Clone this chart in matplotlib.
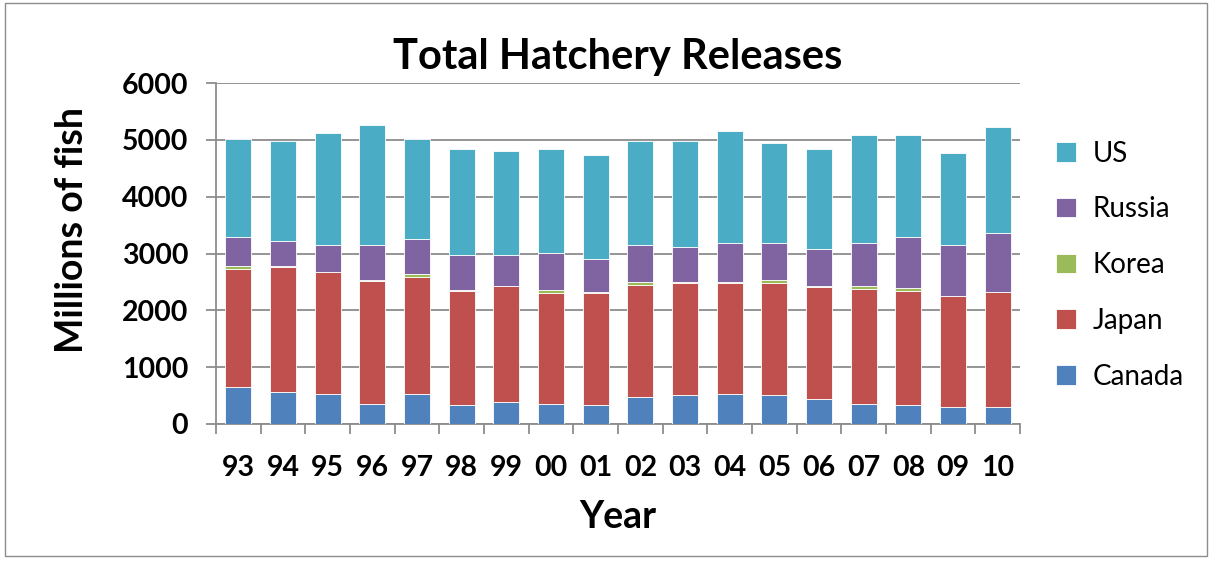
import matplotlib.pyplot as plt
import numpy as np
from matplotlib.patches import Rectangle

plt.rcParams['font.family'] = ['Lato', 'DejaVu Sans']

years = ["93", "94", "95", "96", "97", "98", "99", "00", "01",
         "02", "03", "04", "05", "06", "07", "08", "09", "10"]
canada = [645, 569, 533, 358, 533, 328, 393, 358, 328,
          469, 504, 533, 504, 434, 358, 328, 293, 293]
japan = [2087, 2198, 2134, 2162, 2058, 2017, 2028, 1951, 1981,
         1981, 1981, 1952, 1981, 1981, 2022, 2017, 1952, 2022]
korea = [46, 11, 6, 12, 47, 11, 6, 47, 12,
         47, 6, 6, 47, 12, 47, 47, 6, 6]
russia = [516, 446, 481, 622, 627, 622, 551, 657, 592,
          657, 627, 698, 657, 662, 762, 902, 903, 1044]
us = [1718, 1758, 1963, 2104, 1747, 1858, 1829, 1823, 1823,
      1828, 1864, 1969, 1758, 1747, 1893, 1788, 1617, 1864]

series = [("Canada", canada, "#4F81BD"),
          ("Japan", japan, "#C0504D"),
          ("Korea", korea, "#9BBB59"),
          ("Russia", russia, "#8064A2"),
          ("US", us, "#4BACC6")]

fig = plt.figure(figsize=(12.13, 5.62), dpi=100)
ax = fig.add_axes([0.178, 0.2456, 0.663, 0.6064])

x = np.arange(len(years))
bottom = np.zeros(len(years))
handles = []
for name, vals, col in series:
    h = ax.bar(x, vals, 0.58, bottom=bottom, color=col, edgecolor="white",
               linewidth=0.6, label=name, zorder=3)
    handles.append(h)
    bottom += np.array(vals)

ax.set_xlim(-0.5, len(years) - 0.5)
ax.set_ylim(0, 6000)
ax.set_yticks(range(0, 6001, 1000))
ax.yaxis.grid(True, color="#8c8c8c", linewidth=1.3, zorder=0)
ax.set_xticks(x)
ax.set_xticklabels(years, fontsize=20.5, fontweight="bold")
ax.set_xticks(np.arange(-0.5, len(years), 1), minor=True)
ax.tick_params(axis="x", which="major", length=0, pad=22)
ax.tick_params(axis="x", which="minor", length=7, width=1.3, color="#8c8c8c")
ax.tick_params(axis="y", length=7, width=1.3, color="#8c8c8c", labelsize=20.5, pad=13)
for lbl in ax.get_yticklabels():
    lbl.set_fontweight("bold")

for s in ["top", "right"]:
    ax.spines[s].set_visible(False)
for s in ["left", "bottom"]:
    ax.spines[s].set_color("#8c8c8c")
    ax.spines[s].set_linewidth(1.3)

ax.set_title("Total Hatchery Releases", fontsize=30, fontweight="bold", pad=10)
ax.set_ylabel("Millions of fish", fontsize=27, fontweight="bold")
ax.yaxis.set_label_coords(-0.158, 0.568)
ax.set_xlabel("Year", fontsize=27, fontweight="bold", labelpad=14)

leg = ax.legend(handles[::-1], [s[0] for s in series][::-1], loc="center left",
                bbox_to_anchor=(1.014, 0.466), frameon=False, fontsize=20,
                handlelength=0.7, handleheight=0.7, labelspacing=1.07,
                handletextpad=0.6)

fig.patches.append(Rectangle((0.004, 0.01), 0.991, 0.985, transform=fig.transFigure,
                             fill=False, edgecolor="#8c8c8c", linewidth=1))

fig.savefig("out.png", dpi=100)
